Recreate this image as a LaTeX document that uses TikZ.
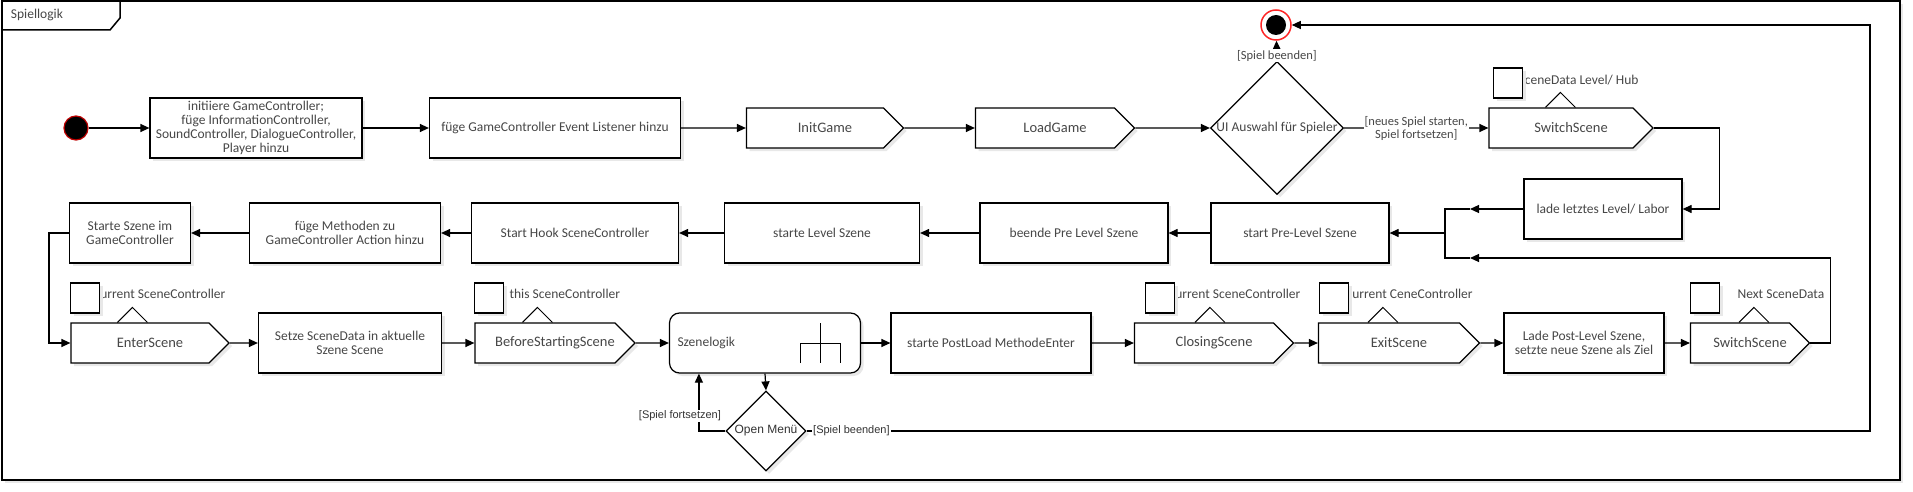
\documentclass[tikz,border=0pt]{standalone}
\usepackage{fontspec}
\setmainfont{Carlito}
\newfontfamily\arialfont{Liberation Sans}
\usetikzlibrary{shapes.geometric}
\usetikzlibrary{shapes.symbols}
\usetikzlibrary{arrows.meta}
\usetikzlibrary{shadows}

\begin{document}
\begin{tikzpicture}[x=1pt,y=-1pt,line width=1.2pt,
    >={Triangle[length=9pt,width=8pt]},
    shadowed/.style={drop shadow={fill=black!9,opacity=1,shadow xshift=3pt,shadow yshift=-3pt}},
    base/.style={font=\fontsize{13.5}{14}\selectfont,text=black!72},
    action/.style={base,draw,rectangle,fill=white,minimum height=60,inner sep=2pt,align=center,shadowed},
    sendsig/.style={base,draw,shape=signal,signal to=east,signal pointer angle=90,fill=white,
      minimum height=40,inner sep=0pt,shadowed,font=\fontsize{14.5}{16}\selectfont,xshift=-10pt,
      execute at begin node={\hspace*{10pt}},execute at end node={\hspace*{-10pt}}},
    logic/.style={base,draw,rectangle,rounded corners=10pt,fill=white,minimum height=60,
      text width=175,inner sep=8pt,align=left,shadowed},
    decision/.style={draw,diamond,fill=white,inner sep=0pt,shadowed},
    startnode/.style={circle,fill=black,draw=red!75!black,minimum size=24,inner sep=0pt},
    endnode/.style={circle,draw=red!85,line width=1.5pt,fill=white,minimum size=30,inner sep=0pt,
      path picture={\fill[black] (path picture bounding box.center) circle (10pt);}},
    pinbox/.style={draw,fill=white,minimum width=29,minimum height=30,inner sep=0pt,shadowed},
    pinlabel/.style={base,anchor=west,inner sep=0pt},
    pinmark/.style={line width=1pt},
    flow/.style={->},
    guard/.style={base,font=\fontsize{12.5}{13}\selectfont,fill=white,inner sep=1pt},
    guardb/.style={font=\arialfont\fontsize{11}{12}\selectfont,text=black!80,fill=white,inner sep=1pt},
    mergebar/.style={line width=2.6pt},
    frame/.style={line width=1.5pt}]
  \useasboundingbox (0,0) rectangle (1913,492);

  % rahmen
  \draw[frame,fill=white,drop shadow={fill=black!9,opacity=1,shadow xshift=3pt,shadow yshift=-3pt}] (2,1) rectangle (1900,480);
  \draw[frame] (2,30) -- (110,30) -- (120,18) -- (120,1);
  \node[base,anchor=west] (title) at (7,15) {Spiellogik};

  % erste Zeile
  \node[startnode] (start) at (76,128) {};
  \node[action,minimum width=212] (init) at (256,128) {initiiere GameController;\\ füge InformationController,\\ SoundController, DialogueController,\\ Player hinzu};
  \node[action,minimum width=251] (listener) at (555,128) {füge GameController Event Listener hinzu};
  \node[sendsig,minimum width=157] (initgame) at (825,128) {InitGame};
  \node[sendsig,minimum width=159] (loadgame) at (1055,128) {LoadGame};
  \node[decision,minimum width=133,minimum height=133,label={[base]center:UI Auswahl für Spieler}] (ui) at (1277,128) {};
  \node[endnode] (end) at (1276,25) {};
  \node[sendsig,minimum width=164] (switchA) at (1571,128) {SwitchScene};
  \node[action,minimum width=158] (lade) at (1603,209) {lade letztes Level/ Labor};

  % zweite Zeile
  \node[action,minimum width=178] (prelevel) at (1300,233) {start Pre-Level Szene};
  \node[action,minimum width=188] (beende) at (1074,233) {beende Pre Level Szene};
  \node[action,minimum width=195] (startlevel) at (822,233) {starte Level Szene};
  \node[action,minimum width=207] (hook) at (575,233) {Start Hook SceneController};
  \node[action,minimum width=191] (methoden) at (345,233) {füge Methoden zu\\ GameController Action hinzu};
  \node[action,minimum width=121] (startszene) at (130,233) {Starte Szene im\\ GameController};

  % dritte Zeile
  \node[sendsig,minimum width=158] (enter) at (150,343) {EnterScene};
  \node[action,minimum width=183] (setze) at (350,343) {Setze SceneData in aktuelle\\ Szene Scene};
  \node[sendsig,minimum width=160] (before) at (555,343) {BeforeStartingScene};
  \node[logic,minimum width=191] (szene) at (765,343) {Szenelogik};
  \node[action,minimum width=200] (postload) at (991,343) {starte PostLoad MethodeEnter};
  \node[sendsig,minimum width=159] (closing) at (1214,343) {ClosingScene};
  \node[sendsig,minimum width=161] (exit) at (1399,343) {ExitScene};
  \node[action,minimum width=160] (ladepost) at (1584,343) {Lade Post-Level Szene,\\ setzte neue Szene als Ziel};
  \node[sendsig,minimum width=119] (switchB) at (1750,343) {SwitchScene};
  \node[decision,minimum width=80,minimum height=80,label={[font=\arialfont\fontsize{12}{13}\selectfont,text=black!80]center:Open Menü}] (menu) at (766,431) {};

  % rechen in Szenelogik
  \draw[line width=1pt] (szene.center) ++(55,-20) -- ++(0,40)
    (szene.center) ++(35,20) -- ++(0,-20) -- ++(40,0) -- ++(0,20);

  % pins
  \node[pinlabel] (dataA) at (1518,80) {SceneData Level/ Hub};
  \node[pinlabel] (dataEnter) at (94,294) {current SceneController};
  \node[pinlabel] (dataBefore) at (509,294) {this SceneController};
  \node[pinlabel] (dataClosing) at (1169,294) {current SceneController};
  \node[pinlabel] (dataExit) at (1346,294) {current CeneController};
  \node[pinlabel] (dataSwitch) at (1737,294) {Next SceneData};
  \node[pinbox] (pinA) at (1508,83) {};
  \node[pinbox] (pinEnter) at (85,298) {};
  \node[pinbox] (pinBefore) at (489,298) {};
  \node[pinbox] (pinClosing) at (1160,298) {};
  \node[pinbox] (pinExit) at (1334,298) {};
  \node[pinbox] (pinSwitch) at (1705,298) {};
  \draw[pinmark] (switchA.north west) ++(57,0) -- ++(15,-15) -- ++(15,15);
  \draw[pinmark] (enter.north west) ++(47,0) -- ++(15,-15) -- ++(15,15);
  \draw[pinmark] (before.north west) ++(48,0) -- ++(15,-15) -- ++(15,15);
  \draw[pinmark] (closing.north west) ++(61,0) -- ++(15,-15) -- ++(15,15);
  \draw[pinmark] (exit.north west) ++(50,0) -- ++(15,-15) -- ++(15,15);
  \draw[pinmark] (switchB.north west) ++(49,0) -- ++(15,-15) -- ++(15,15);

  % merge
  \coordinate (mtop) at (1470,209);
  \coordinate (mbot) at (1470,258);
  \coordinate (mout) at (1421,233);
  \draw[mergebar] (mtop) -- (1445,209) -- (1445,258) -- (mbot) (1445,233) -- (mout);
  \coordinate (rail) at (1870,431);

  % pfeile
  \draw[flow] (start) -- (init);
  \draw[flow] (init) -- (listener);
  \draw[flow] (listener) -- (initgame);
  \draw[flow] (initgame) -- (loadgame);
  \draw[flow] (loadgame) -- (ui);
  \draw[flow] (ui.north) -- node[guard,pos=0.25]{[Spiel beenden]} (end);
  \draw[flow] (ui.east) -- node[guard,align=center]{[neues Spiel starten,\\ Spiel fortsetzen]} (switchA);
  \draw[flow] (switchA.east) -- ++(66,0) |- (lade.east);
  \draw[flow] (lade.west) -- (mtop);
  \draw[flow] (mout) -- (prelevel);
  \draw[flow] (prelevel) -- (beende);
  \draw[flow] (beende) -- (startlevel);
  \draw[flow] (startlevel) -- (hook);
  \draw[flow] (hook) -- (methoden);
  \draw[flow] (methoden) -- (startszene);
  \draw[flow] (startszene.west) -- ++(-20,0) |- (enter.west);
  \draw[flow] (enter) -- (setze);
  \draw[flow] (setze) -- (before);
  \draw[flow] (before) -- (szene);
  \draw[flow] (szene) -- (postload);
  \draw[flow] (postload) -- (closing);
  \draw[flow] (closing) -- (exit);
  \draw[flow] (exit) -- (ladepost);
  \draw[flow] (ladepost) -- (switchB);
  \draw[flow] (switchB.east) -- ++(20,0) |- (mbot);
  \draw[flow] (szene.south) -- (menu.north);
  \draw[flow] (menu.west) -| node[guardb,pos=0.63,xshift=-19pt]{[Spiel fortsetzen]} ([xshift=30pt]szene.south west);
  \draw[flow] (menu.east) -- node[guardb,pos=0,anchor=west,xshift=5pt]{[Spiel beenden]} (rail) |- (end);
\end{tikzpicture}
\end{document}
